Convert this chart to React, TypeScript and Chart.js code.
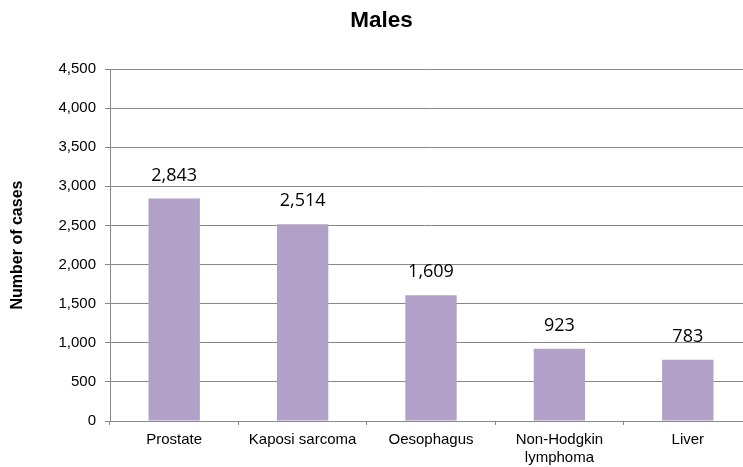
import React, { useEffect, useRef } from "react";
import { Chart, registerables } from "chart.js";

Chart.register(...registerables);

const categories: (string | string[])[] = ["Prostate", "Kaposi sarcoma", "Oesophagus", ["Non-Hodgkin", "lymphoma"], "Liver"];
const cases: number[] = [2843, 2514, 1609, 923, 783];
const yTicks: number[] = [0, 500, 1000, 1500, 2000, 2500, 3000, 3500, 4000, 4500];
const chartTitle = "Males";
const yTitle = "Number of cases";

const fmt = (v: number) => v.toLocaleString("en-US");
const SANS = "'Liberation Sans', Arial, sans-serif";

export default function App() {
  const ref = useRef<HTMLCanvasElement | null>(null);
  useEffect(() => {
    if (!ref.current) return;
    const labelsPlugin = {
      id: "custom",
      afterDraw(chart: any) {
        const ctx = chart.ctx;
        ctx.save();
        ctx.fillStyle = "#000";
        ctx.textAlign = "center";
        ctx.textBaseline = "middle";
        ctx.font = `bold 22.5px ${SANS}`;
        ctx.fillText(chartTitle, 381.5, 21);
        ctx.save();
        ctx.translate(18, 245);
        ctx.rotate(-Math.PI / 2);
        ctx.font = `bold 16px ${SANS}`;
        ctx.fillText(yTitle, 0, 0);
        ctx.restore();
        ctx.font = "18px 'Open Sans', 'Liberation Sans', sans-serif";
        const meta = chart.getDatasetMeta(0);
        meta.data.forEach((bar: any, i: number) => {
          ctx.fillText(fmt(cases[i]), bar.x, bar.y - 23);
        });
        ctx.restore();
      },
    };
    const chart = new Chart(ref.current, {
      type: "bar",
      data: {
        labels: categories as any,
        datasets: [
          {
            data: cases,
            backgroundColor: "#B1A0C7",
            borderWidth: 0,
            categoryPercentage: 1,
            barPercentage: 0.4,
          },
        ],
      },
      options: {
        responsive: false,
        animation: false,
        layout: { padding: { top: 69, right: 0, left: 0, bottom: 0 } },
        plugins: { legend: { display: false }, title: { display: false }, tooltip: { enabled: false } },
        scales: {
          x: {
            offset: true,
            grid: { display: true, drawOnChartArea: false, drawTicks: true, tickLength: 4, offset: true, color: "#888888" },
            border: { color: "#888888", width: 1 },
            ticks: { color: "#000", font: { family: SANS, size: 15 }, padding: 6, maxRotation: 0, autoSkip: false },
            afterFit: (s: any) => { s.height = 46; },
          },
          y: {
            min: 0,
            max: 4500,
            afterBuildTicks: (s: any) => { s.ticks = yTicks.map((v) => ({ value: v })); },
            grid: { color: "#888888", tickLength: 5 },
            border: { color: "#888888", width: 1 },
            ticks: {
              color: "#000",
              font: { family: SANS, size: 15 },
              padding: 9,
              callback: (v: any) => fmt(Number(v)),
            },
            afterFit: (s: any) => { s.width = 110; },
          },
        },
      },
      plugins: [labelsPlugin],
    });
    return () => chart.destroy();
  }, []);
  return (
    <div style={{ position: "fixed", top: 0, left: 0, width: 743, height: 467, overflow: "hidden", background: "#fff" }}>
      <canvas ref={ref} width={752} height={467} style={{ width: 752, height: 467, display: "block" }} />
    </div>
  );
}
